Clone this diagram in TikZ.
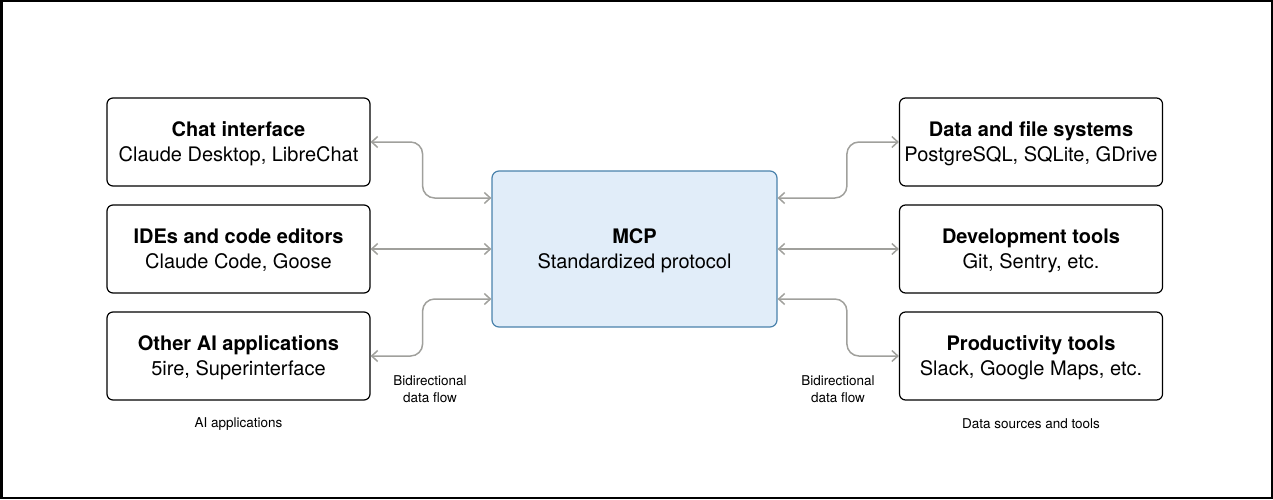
\documentclass[tikz,border=0pt]{standalone}
\usepackage{fontspec}
\setmainfont{TeX Gyre Heros}
\usetikzlibrary{arrows.meta}
\definecolor{mcpfill}{HTML}{E1EDF9}
\definecolor{mcpline}{HTML}{4A82AC}
\definecolor{flowgray}{HTML}{A0A09C}
\begin{document}
\begin{tikzpicture}[x=1pt,y=1pt,
    box/.style={draw=black,line width=1.2pt,rounded corners=6pt,minimum width=263pt,minimum height=88pt,align=center,text depth=-2pt,font=\fontsize{20}{25}\selectfont},
    hub/.style={draw=mcpline,fill=mcpfill,line width=1.2pt,rounded corners=7pt,minimum width=285pt,minimum height=156pt,align=center,text depth=-2pt,font=\fontsize{20}{25}\selectfont},
    flow/.style={draw=flowgray,line width=1.5pt,rounded corners=12pt,{Straight Barb[length=6pt,width=11pt]}-{Straight Barb[length=6pt,width=11pt]}},
    note/.style={align=center,font=\fontsize{13.5}{17}\selectfont}]
            \draw[line width=2.5pt] (1.25,1.25) rectangle (1271.75,497.75);
            \useasboundingbox (0,0) rectangle (1273,499);

            \node[hub] (mcp) at (634.5,250) {\textbf{MCP}\\Standardized protocol};

            \node[box] (app1) at (238.5,357) {\textbf{Chat interface}\\Claude Desktop, LibreChat};
            \node[box] (app2) at (238.5,250) {\textbf{IDEs and code editors}\\Claude Code, Goose};
            \node[box] (app3) at (238.5,143) {\textbf{Other AI applications}\\5ire, Superinterface};

            \node[box] (src1) at (1031,357) {\textbf{Data and file systems}\\PostgreSQL, SQLite, GDrive};
            \node[box] (src2) at (1031,250) {\textbf{Development tools}\\Git, Sentry, etc.};
            \node[box] (src3) at (1031,143) {\textbf{Productivity tools}\\Slack, Google Maps, etc.};

            \coordinate (mcpw1) at ([yshift=51pt]mcp.west);
            \coordinate (mcpw3) at ([yshift=-50pt]mcp.west);
            \coordinate (mcpe1) at ([yshift=51pt]mcp.east);
            \coordinate (mcpe3) at ([yshift=-50pt]mcp.east);

            \draw[flow] (app1.east) -- ++(52,0) |- (mcpw1);
            \draw[flow] (app2.east) -- (mcp.west);
            \draw[flow] (app3.east) -- ++(52,0) |- (mcpw3);
            \draw[flow] (src1.west) -- ++(-52,0) |- (mcpe1);
            \draw[flow] (src2.west) -- (mcp.east);
            \draw[flow] (src3.west) -- ++(-52,0) |- (mcpe3);

            \node[note] (flowl) at (430,110) {Bidirectional\\data flow};
            \node[note] (flowr) at (838,110) {Bidirectional\\data flow};
            \node[note] (appsl) at (238.5,75) {AI applications};
            \node[note] (srcsl) at (1031,75) {Data sources and tools};
        \end{tikzpicture}
\end{document}
